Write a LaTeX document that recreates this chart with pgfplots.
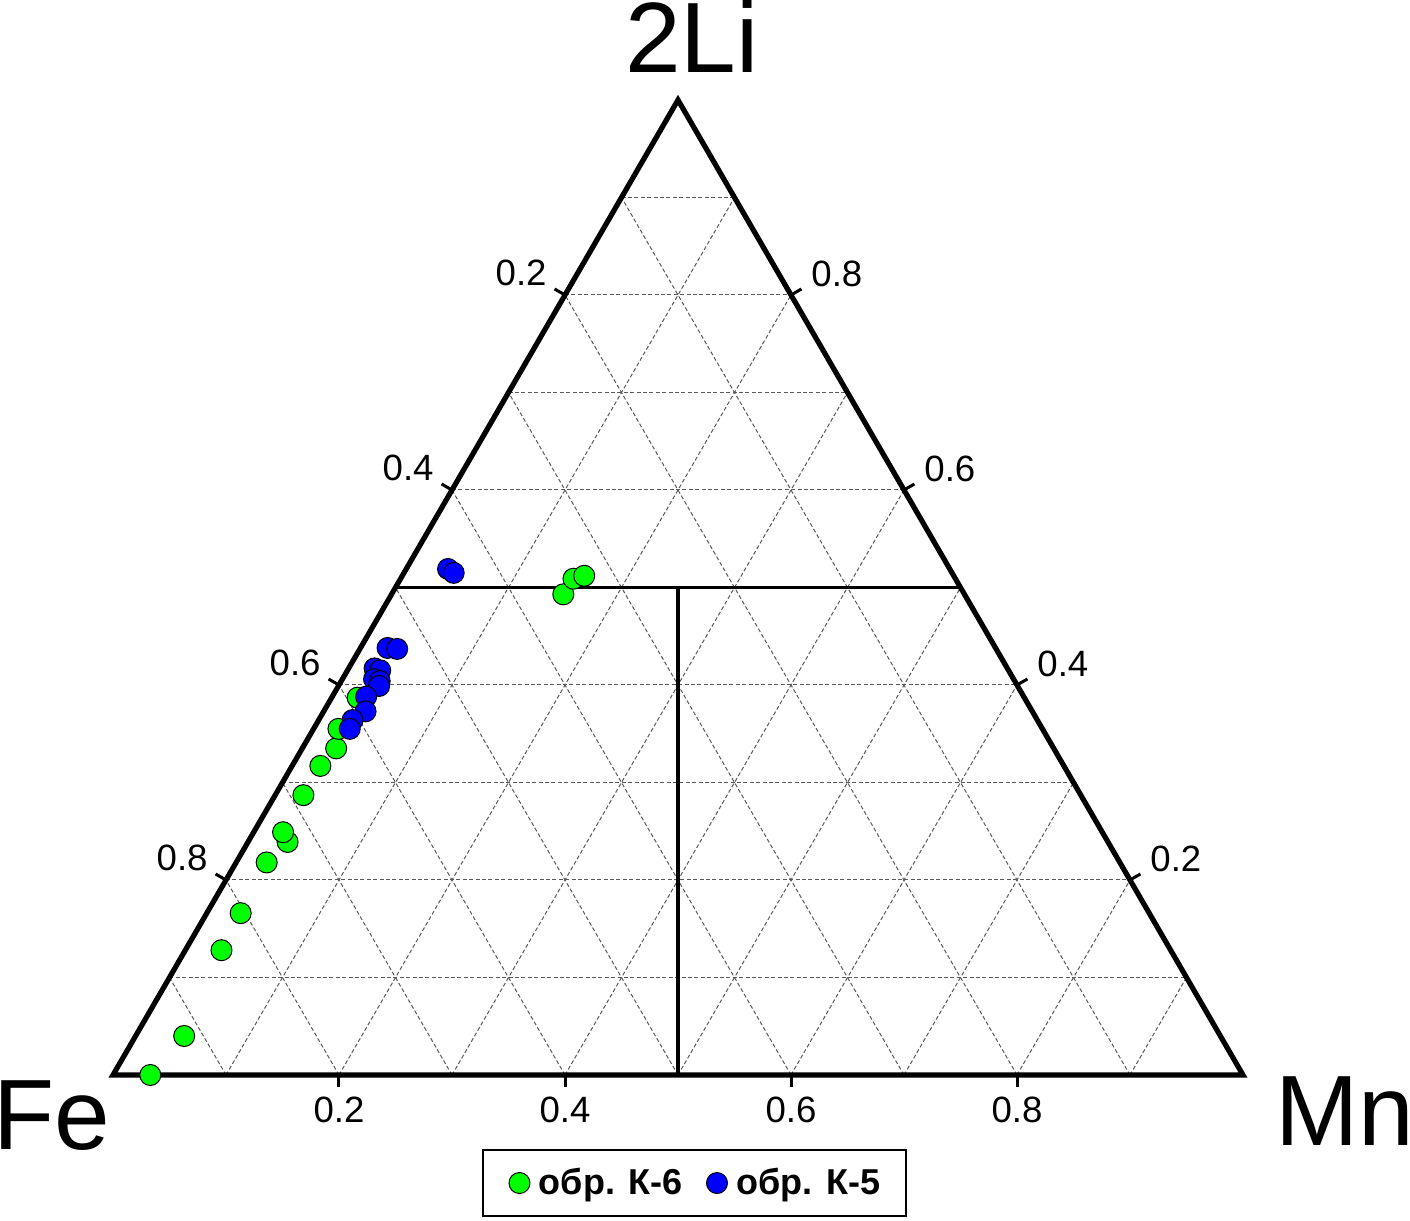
\documentclass[border=0pt]{standalone}
\usepackage{pgfplots}
\pgfplotsset{compat=1.18}
\usepackage{pgfplotstable}
\usepackage{fontspec}
\setmainfont{Liberation Sans}
\definecolor{pgreen}{RGB}{0,255,0}
\definecolor{pblue}{RGB}{0,0,255}
\tikzset{gridline/.style={black!65, line width=0.5pt, dash pattern=on 2pt off 1.2pt}}

% columns: Mn fraction, 2Li fraction (Fe = 1 - Mn - 2Li)
\pgfplotstableread{
Mn Li
0.033 0.000
0.043 0.040
0.032 0.128
0.030 0.166
0.027 0.218
0.035 0.239
0.026 0.249
0.025 0.287
0.025 0.317
0.030 0.335
0.022 0.355
0.023 0.387
0.152 0.493
0.153 0.509
0.161 0.512
}\greendata

\pgfplotstableread{
Mn Li
0.037 0.519
0.044 0.515
0.024 0.438
0.033 0.437
0.023 0.417
0.029 0.415
0.028 0.406
0.034 0.404
0.036 0.399
0.030 0.388
0.037 0.373
0.030 0.364
0.032 0.355
}\bluedata

\begin{document}
\begin{tikzpicture}
\begin{axis}[
  scale only axis, width=565pt, height=487.5pt,
  xmin=0, xmax=1, ymin=0, ymax=1,
  axis lines=none, clip=false,
  legend columns=2,
  legend style={at={(0.5146,-0.1108)}, anchor=center, draw=black, line width=1pt,
    font=\fontsize{18}{21}\selectfont\bfseries,
    inner xsep=13pt, inner ysep=9pt, nodes={inner sep=0pt},
    /tikz/every odd column/.append style={column sep=4.5pt},
    /tikz/every even column/.append style={column sep=12pt}},
  legend image code/.code={\draw[#1] plot coordinates {(5.25pt,0pt)};},
]
% grid
\pgfplotsinvokeforeach{1,2,3,4,5,6,7,8,9}{
  \draw[gridline] (axis cs:#1/20,#1/10) -- (axis cs:1-#1/20,#1/10);
  \draw[gridline] (axis cs:#1/10,0) -- (axis cs:0.5+#1/20,1-#1/10);
  \draw[gridline] (axis cs:#1/10,0) -- (axis cs:#1/20,#1/10);
}
% inner solid lines
\draw[line width=1.8pt] (axis cs:0.25,0.5) -- (axis cs:0.75,0.5);
\draw[line width=1.8pt] (axis cs:0.5,0.5) -- (axis cs:0.5,0);
% ticks
\pgfplotsinvokeforeach{2,4,6,8}{
  \draw[line width=1.5pt] (axis cs:#1/20,#1/10) -- ++(150:6pt);
  \draw[line width=1.5pt] (axis cs:1-#1/20,#1/10) -- ++(30:6pt);
  \draw[line width=1.5pt] (axis cs:#1/10,0) -- ++(-90:6pt);
}
% triangle
\draw[line width=2.6pt, line join=miter] (axis cs:0,0) -- (axis cs:1,0) -- (axis cs:0.5,1) -- cycle;

% tick labels
\begin{scope}[every node/.style={font=\fontsize{18.3}{21}\selectfont, inner sep=0pt}]
\node[anchor=base east, xshift=-9pt, yshift=4.5pt] at (axis cs:0.4,0.8) {0.2};
\node[anchor=base east, xshift=-9pt, yshift=4.5pt] at (axis cs:0.3,0.6) {0.4};
\node[anchor=base east, xshift=-9pt, yshift=4.5pt] at (axis cs:0.2,0.4) {0.6};
\node[anchor=base east, xshift=-9pt, yshift=4.5pt] at (axis cs:0.1,0.2) {0.8};
\node[anchor=base west, xshift=10pt, yshift=4.2pt] at (axis cs:0.6,0.8) {0.8};
\node[anchor=base west, xshift=10pt, yshift=4.2pt] at (axis cs:0.7,0.6) {0.6};
\node[anchor=base west, xshift=10pt, yshift=4.2pt] at (axis cs:0.8,0.4) {0.4};
\node[anchor=base west, xshift=10pt, yshift=4.2pt] at (axis cs:0.9,0.2) {0.2};
\node[anchor=base, yshift=-24pt] at (axis cs:0.2,0) {0.2};
\node[anchor=base, yshift=-24pt] at (axis cs:0.4,0) {0.4};
\node[anchor=base, yshift=-24pt] at (axis cs:0.6,0) {0.6};
\node[anchor=base, yshift=-24pt] at (axis cs:0.8,0) {0.8};
\end{scope}
% vertex labels
\begin{scope}[every node/.style={font=\fontsize{50}{60}\selectfont, inner sep=0pt}]
\node[anchor=base] at (axis cs:0.5124,1.0287) {2Li};
\node[anchor=base west] at (axis cs:-0.1062,-0.0769) {Fe};
\node[anchor=base west] at (axis cs:1.0285,-0.0718) {Mn};
\end{scope}

\addplot[only marks, mark=*, mark size=5.25pt, mark options={fill=pgreen, draw=black, line width=0.5pt}]
  table[x expr=\thisrow{Mn}+0.5*\thisrow{Li}, y=Li] {\greendata};
\addlegendentry{обр. К-6}
\addplot[only marks, mark=*, mark size=5.25pt, mark options={fill=pblue, draw=black, line width=0.5pt}]
  table[x expr=\thisrow{Mn}+0.5*\thisrow{Li}, y=Li] {\bluedata};
\addlegendentry{обр. К-5}
\end{axis}
\pgfresetboundingbox
\path (-56.5pt,-73pt) rectangle (648.5pt,537.5pt);
\end{tikzpicture}
\end{document}
